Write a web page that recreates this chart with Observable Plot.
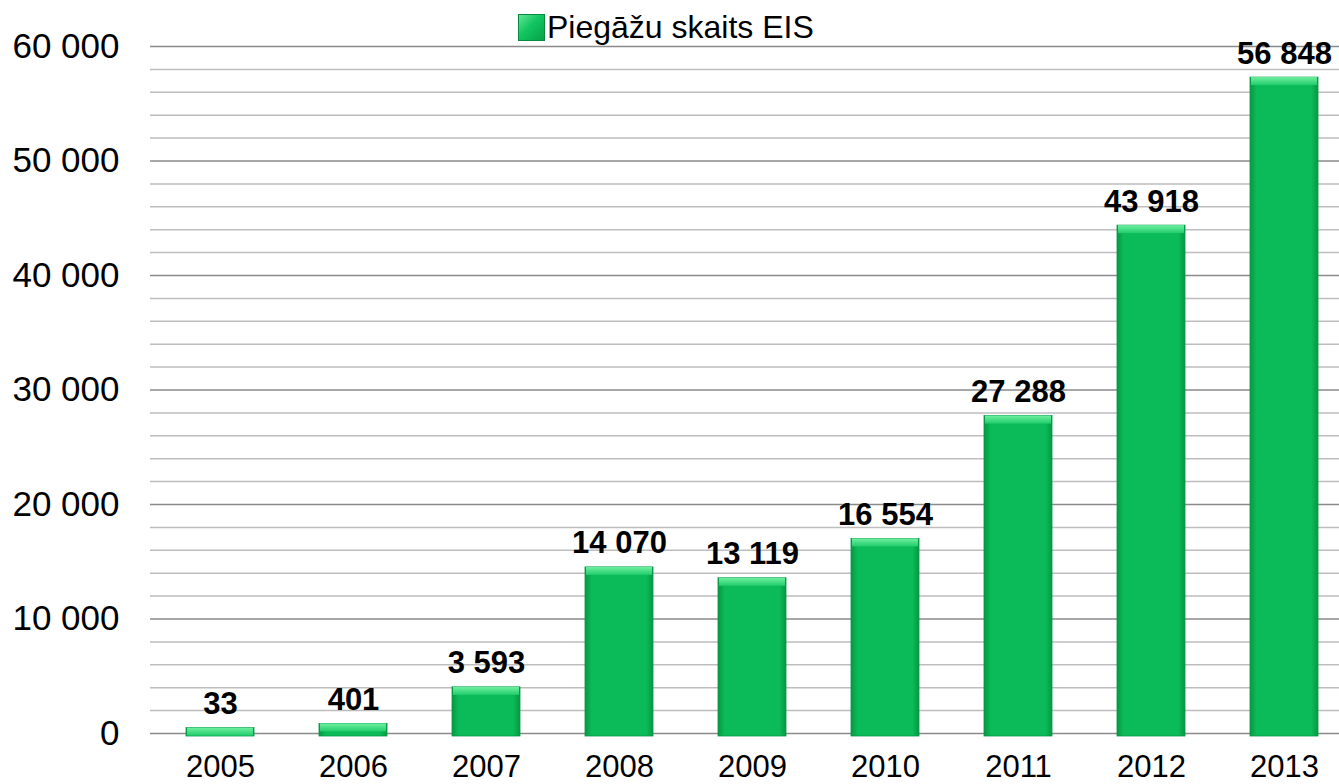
<!DOCTYPE html>
<html>
<head>
<meta charset="utf-8">
<script src="https://cdn.jsdelivr.net/npm/d3@7"></script>
<script src="https://cdn.jsdelivr.net/npm/@observablehq/plot@0.6"></script>
<style>
  html, body { margin: 0; padding: 0; background: #fff; }
  #wrap { position: relative; width: 1339px; height: 784px; overflow: hidden; font-family: "Liberation Sans", Arial, sans-serif; }
  #legend { position: absolute; left: 518px; top: 9px; display: flex; align-items: center; font-size: 32px; color: #000; z-index: 2; background: transparent; }
  #legend .sw { width: 27px; height: 27px; margin-right: 2px; background: linear-gradient(135deg, #5fe593 0%, #12c561 45%, #06a24a 100%); border: 1px solid #078a3f; box-sizing: border-box; }
</style>
</head>
<body>
<div id="wrap">
  <div id="legend"><div class="sw"></div><span>Piegāžu skaits EIS</span></div>
  <div id="chart"></div>
</div>
<script>
const years = ["2005", "2006", "2007", "2008", "2009", "2010", "2011", "2012", "2013"];
const values = [33, 401, 3593, 14070, 13119, 16554, 27288, 43918, 56848];
const majorTicks = [0, 10000, 20000, 30000, 40000, 50000, 60000];
const minorTicks = [2000, 4000, 6000, 8000, 12000, 14000, 16000, 18000, 22000, 24000, 26000, 28000, 32000, 34000, 36000, 38000, 42000, 44000, 46000, 48000, 52000, 54000, 56000, 58000];
const seriesName = "Piegāžu skaits EIS";

const data = years.map((y, i) => ({year: y, value: values[i]}));
const fmt = v => d3.format(",")(v).replace(/,/g, " ");

const chart = Plot.plot({
  width: 1339,
  height: 784,
  marginLeft: 150,
  marginRight: 0,
  marginTop: 46,
  marginBottom: 51,
  style: {fontFamily: "'Liberation Sans', Arial, sans-serif", fontSize: "32px", color: "#000", background: "transparent", overflow: "visible"},
  x: {domain: years, range: [150, 1354], paddingInner: 0.49, paddingOuter: 0.245, label: null},
  y: {domain: [0, 60000], label: null},
  marks: [
    Plot.ruleY(minorTicks, {stroke: "#bdbdbd", strokeWidth: 1.5}),
    Plot.ruleY(majorTicks, {stroke: "#8a8a8a", strokeWidth: 1.5}),
    Plot.ruleX([0], {x: () => 0, frameAnchor: "left", stroke: "#8a8a8a", strokeWidth: 1.5}),
    Plot.axisY({ticks: majorTicks, tickSize: 0, tickPadding: 31, tickFormat: fmt, fontSize: 35}),
    Plot.axisX({tickSize: 0, tickPadding: 21, fontSize: 31}),
    Plot.barY(data, {x: "year", y: "value", fill: "url(#barGrad)", insetTop: -5, insetBottom: -3, stroke: "#07964a", strokeWidth: 0.8}),
    Plot.barY(data, {x: "year", y1: "value", y2: "value", insetTop: -5, insetBottom: -3, insetLeft: 1, insetRight: 1, fill: "url(#topGrad)"}),
    Plot.text(data, {x: "year", y: "value", text: d => fmt(d.value), dy: -19, lineAnchor: "bottom", fontWeight: "bold", fontSize: 31, fill: "#000"})
  ]
});

// gradients for bar shading
const svg = d3.select(chart);
const defs = svg.insert("defs", ":first-child");
const g1 = defs.append("linearGradient").attr("id", "barGrad").attr("x1", "0").attr("x2", "1").attr("y1", "0").attr("y2", "0");
g1.append("stop").attr("offset", "0%").attr("stop-color", "#07983f");
g1.append("stop").attr("offset", "10%").attr("stop-color", "#0bbb5a");
g1.append("stop").attr("offset", "90%").attr("stop-color", "#0bbb5a");
g1.append("stop").attr("offset", "100%").attr("stop-color", "#07983f");
const g2 = defs.append("linearGradient").attr("id", "topGrad").attr("x1", "0").attr("x2", "0").attr("y1", "0").attr("y2", "1");
g2.append("stop").attr("offset", "0%").attr("stop-color", "#6ff0a0");
g2.append("stop").attr("offset", "100%").attr("stop-color", "#22cc6c");

document.getElementById("chart").appendChild(chart);
</script>
</body>
</html>
